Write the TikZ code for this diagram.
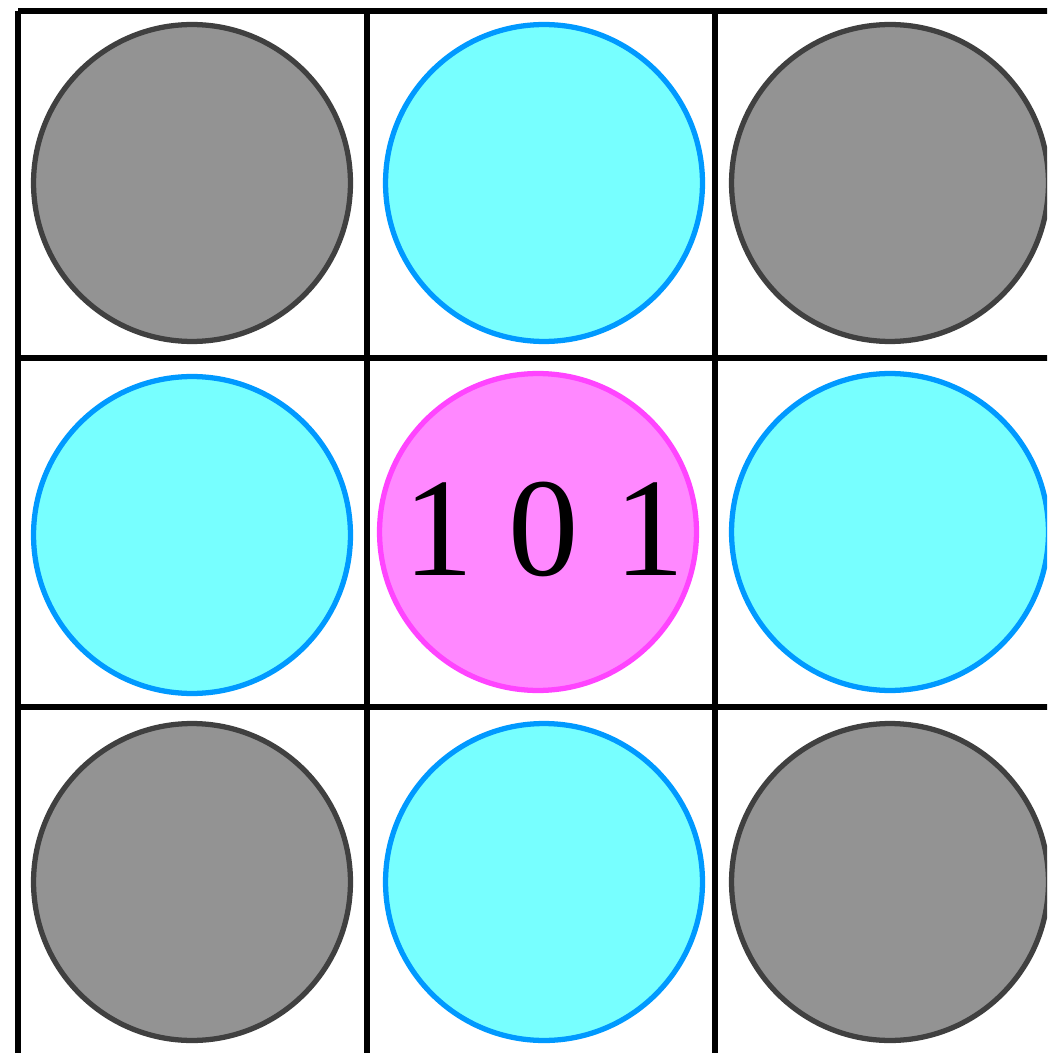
\documentclass[tikz,border=0pt]{standalone}
\usepackage{fontspec}
\setmainfont{Liberation Serif}
\usetikzlibrary{positioning}
\definecolor{dotgray}{RGB}{147,147,147}
\definecolor{rimgray}{RGB}{64,64,64}
\definecolor{dotcyan}{RGB}{119,255,255}
\definecolor{rimcyan}{RGB}{0,153,255}
\definecolor{dotpink}{RGB}{255,136,255}
\definecolor{rimpink}{RGB}{255,68,255}
\tikzset{
  gridln/.style={line width=3.4pt,black},
  cdot/.style={circle,minimum size=6.34cm,inner sep=0pt,line width=3pt},
  gdot/.style={cdot,fill=dotgray,draw=rimgray},
  bdot/.style={cdot,fill=dotcyan,draw=rimcyan},
  pdot/.style={cdot,fill=dotpink,draw=rimpink},
  bitlab/.style={inner sep=0pt,anchor=base,font=\fontsize{80pt}{80pt}\selectfont}
}
\begin{document}
\begin{tikzpicture}[x=0.02cm,y=-0.02cm]
  \useasboundingbox (0,0) rectangle (1047,1053);
  \clip (0,0) rectangle (1047,1053);
  % grid
  \foreach \gx in {18,367,715} \draw[gridln] (\gx,11) -- (\gx,1100);
  \foreach \gy in {11,358,707} \draw[gridln] (18,\gy) -- (1100,\gy);
  % corner dots
  \node[gdot] (tl) at (192,183) {}; \node[gdot] (tr) at (890,183) {};
  \node[gdot] (bl) at (192,882) {}; \node[gdot] (br) at (890,882) {};
  % edge dots
  \node[bdot] (tm) at (544,183) {}; \node[bdot] (bm) at (544,882) {};
  \node[bdot] (ml) at (192,535) {}; \node[bdot] (mr) at (890,532) {};
  % centre dot
  \node[pdot] (mm) at (538,532) {};
  \node[bitlab] (bits) at (544,575) {1 0 1};
\end{tikzpicture}
\end{document}
